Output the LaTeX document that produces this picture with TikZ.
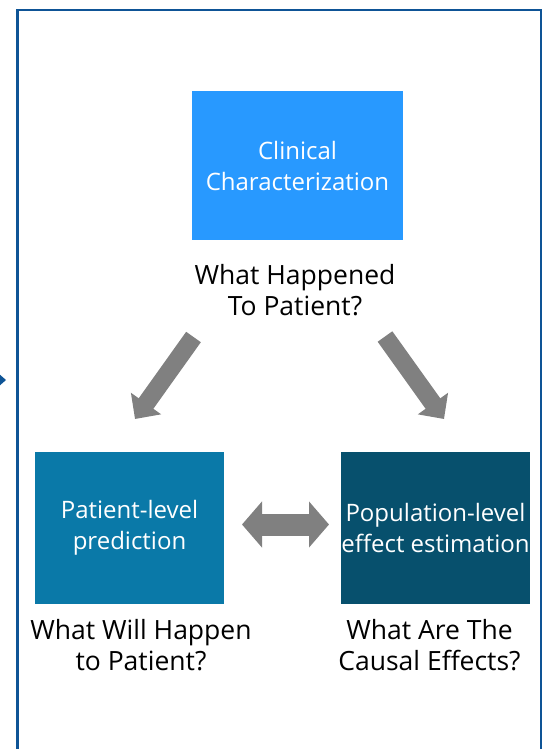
\documentclass[tikz,border=0pt]{standalone}
\usepackage{fontspec}
\setmainfont{Open Sans}
\usetikzlibrary{arrows.meta}
\definecolor{frameblue}{RGB}{14,84,150}
\definecolor{boxa}{RGB}{40,153,255}
\definecolor{boxb}{RGB}{10,121,168}
\definecolor{boxc}{RGB}{7,80,109}
\definecolor{arrowgray}{RGB}{128,128,128}
\tikzset{
  box/.style={inner sep=0pt, minimum width=#1, minimum height=152pt, align=center, text=white},
  boxfont/.style={font=\fontsize{24}{31}\selectfont},
  question/.style={inner sep=0pt, align=center, font=\fontsize{26.5}{31}\selectfont, text=black},
  diagarrow/.style={draw=arrowgray, line width=18pt, -{Triangle[width=36pt,length=19pt]}},
  duoarrow/.style={draw=arrowgray, line width=22pt, {Triangle[width=45pt,length=20pt]}-{Triangle[width=45pt,length=20pt]}},
  frame/.style={draw=frameblue, line width=2.5pt}
}
\begin{document}
\begin{tikzpicture}[x=1pt,y=-1pt]
\clip (0,0) rectangle (550,749);
\fill[white] (0,0) rectangle (550,749);
% frame
\draw[frame] (17.5,760) -- (17.5,10) -- (541,10) -- (541,760);
\fill[frameblue] (-2,373) -- (6,380) -- (-2,387) -- cycle;
% boxes
\node[box=211pt, minimum height=149pt, fill=boxa, boxfont] (cc) at (297.5,165.5) {\raisebox{-1.5pt}{Clinical}\\\raisebox{-1.5pt}{Characterization}};
\node[box=189pt, fill=boxb, boxfont] (plp) at (129.5,528) {Patient-level\\prediction};
\node[box=189pt, fill=boxc, boxfont] (ple) at (435.5,528) {Population-level\\effect estimation};
% questions
\node[question] (q1) at (295,293.8) {\strut What Happened\\\strut To Patient?};
\node[question] (q2) at (141,648.8) {\strut What Will Happen\\\strut to Patient?};
\node[question] (q3) at (429.5,648.8) {\strut What Are The\\\strut Causal Effects?};
% arrows
\coordinate (l1) at (193.5,337);
\coordinate (l2) at (135,419);
\coordinate (r1) at (385,336.5);
\coordinate (r2) at (444,419);
\coordinate (m1) at (242,524.5);
\coordinate (m2) at (329,524.5);
\draw[diagarrow] (l1) -- (l2);
\draw[diagarrow] (r1) -- (r2);
\draw[duoarrow] (m1) -- (m2);
\end{tikzpicture}
\end{document}
